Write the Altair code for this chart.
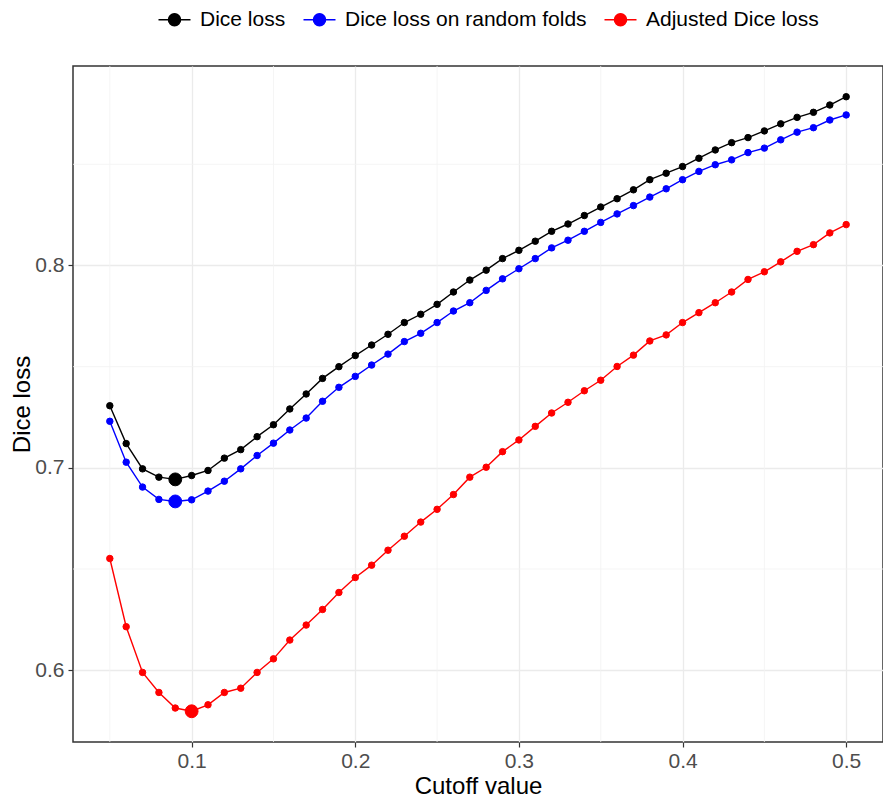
import altair as alt
import pandas as pd

cutoff = [0.05, 0.06, 0.07, 0.08, 0.09, 0.10, 0.11, 0.12, 0.13, 0.14,
          0.15, 0.16, 0.17, 0.18, 0.19, 0.20, 0.21, 0.22, 0.23, 0.24,
          0.25, 0.26, 0.27, 0.28, 0.29, 0.30, 0.31, 0.32, 0.33, 0.34,
          0.35, 0.36, 0.37, 0.38, 0.39, 0.40, 0.41, 0.42, 0.43, 0.44,
          0.45, 0.46, 0.47, 0.48, 0.49, 0.50]

dice = [0.7307, 0.7120, 0.6995, 0.6954, 0.6943, 0.6962, 0.6987, 0.7048, 0.7090, 0.7154,
        0.7213, 0.7291, 0.7365, 0.7442, 0.7500, 0.7555, 0.7607, 0.7660, 0.7718, 0.7759,
        0.7808, 0.7869, 0.7928, 0.7977, 0.8034, 0.8075, 0.8120, 0.8169, 0.8205, 0.8247,
        0.8289, 0.8330, 0.8374, 0.8424, 0.8456, 0.8489, 0.8530, 0.8571, 0.8607, 0.8632,
        0.8665, 0.8700, 0.8732, 0.8757, 0.8793, 0.8834]

dice_random = [0.7230, 0.7028, 0.6905, 0.6844, 0.6834, 0.6842, 0.6885, 0.6934, 0.6995, 0.7061,
               0.7122, 0.7187, 0.7246, 0.7329, 0.7398, 0.7452, 0.7508, 0.7562, 0.7624, 0.7665,
               0.7718, 0.7775, 0.7816, 0.7877, 0.7934, 0.7984, 0.8034, 0.8087, 0.8125, 0.8169,
               0.8213, 0.8255, 0.8296, 0.8338, 0.8379, 0.8424, 0.8465, 0.8498, 0.8522, 0.8558,
               0.8580, 0.8621, 0.8659, 0.8681, 0.8719, 0.8744]

dice_adjusted = [0.6552, 0.6215, 0.5989, 0.5890, 0.5813, 0.5797, 0.5829, 0.5890, 0.5911, 0.5989,
                 0.6056, 0.6149, 0.6223, 0.6300, 0.6384, 0.6458, 0.6519, 0.6593, 0.6662, 0.6732,
                 0.6795, 0.6868, 0.6954, 0.7003, 0.7080, 0.7138, 0.7205, 0.7271, 0.7324, 0.7381,
                 0.7433, 0.7501, 0.7557, 0.7627, 0.7657, 0.7718, 0.7767, 0.7816, 0.7869, 0.7931,
                 0.7969, 0.8018, 0.8070, 0.8103, 0.8161, 0.8202]

series_names = ["Dice loss", "Dice loss on random folds", "Adjusted Dice loss"]
series_colors = ["#000000", "#0000FF", "#FF0000"]

x_major = [0.1, 0.2, 0.3, 0.4, 0.5]
x_minor = [0.05, 0.15, 0.25, 0.35, 0.45]
y_major = [0.6, 0.7, 0.8]
y_minor = [0.65, 0.75, 0.85]

rows = []
for name, vals in zip(series_names, [dice, dice_random, dice_adjusted]):
    for c, v in zip(cutoff, vals):
        rows.append({"cutoff": c, "loss": v, "series": name})
df = pd.DataFrame(rows)


# ggplot-like 5% expansion of the data range
def expand(lo, hi, f=0.05):
    d = (hi - lo) * f
    return [lo - d, hi + d]


all_y = dice + dice_random + dice_adjusted
xscale = alt.Scale(domain=expand(min(cutoff), max(cutoff)), nice=False, zero=False)
yscale = alt.Scale(domain=expand(min(all_y), max(all_y)), nice=False, zero=False)
# legend scale (fill / stroke of the points)
color_scale = alt.Scale(domain=series_names, range=series_colors)
# same mapping for the lines, listed in another order so it stays a separate, legend-less scale
line_scale = alt.Scale(domain=series_names[::-1], range=series_colors[::-1])

FONT = "Liberation Sans"

x_axis = alt.Axis(values=x_major, format=".1f", title="Cutoff value", grid=True,
                  gridColor="#EBEBEB", gridWidth=1.3, domain=False, tickColor="#333333",
                  tickSize=5, tickWidth=1.2, labelFontSize=21, labelColor="#4D4D4D",
                  labelPadding=3, titleFontSize=24, titleFontWeight="normal",
                  titleColor="#000000", titlePadding=3, labelFont=FONT, titleFont=FONT)
y_axis = alt.Axis(values=y_major, format=".1f", title="Dice loss", grid=True,
                  gridColor="#EBEBEB", gridWidth=1.3, domain=False, tickColor="#333333",
                  tickSize=5, tickWidth=1.2, labelFontSize=21, labelColor="#4D4D4D",
                  labelPadding=4, titleFontSize=24, titleFontWeight="normal",
                  titleColor="#000000", titlePadding=0, labelFont=FONT, titleFont=FONT)

minor_x = alt.Chart(pd.DataFrame({"cutoff": x_minor})).mark_rule(
    color="#F3F3F3", strokeWidth=0.8).encode(
    x=alt.X("cutoff:Q", scale=xscale, axis=x_axis))

minor_y = alt.Chart(pd.DataFrame({"loss": y_minor})).mark_rule(
    color="#F3F3F3", strokeWidth=0.8).encode(
    y=alt.Y("loss:Q", scale=yscale, axis=y_axis))

lines = alt.Chart(df).mark_line(strokeWidth=1.4).encode(
    x=alt.X("cutoff:Q", scale=xscale, axis=x_axis),
    y=alt.Y("loss:Q", scale=yscale, axis=y_axis),
    color=alt.Color("series:N", scale=line_scale, legend=None),
    detail="series:N",
)

legend = alt.Legend(
    title=None, orient="none", direction="horizontal", legendX=91, legendY=-57,
    symbolType="M-2,0L2,0M-0.75,0A0.75,0.75,0,1,0,0.75,0A0.75,0.75,0,1,0,-0.75,0Z",
    symbolSize=256, symbolStrokeWidth=1.5, symbolOpacity=1,
    labelFontSize=21, labelFont=FONT, labelColor="#000000", labelOffset=15,
    labelLimit=500, columnPadding=14,
)

# all points; the minimum of each series drawn larger
pts = alt.Chart(df).transform_joinaggregate(
    minloss="min(loss)", groupby=["series"]
).mark_point(shape="circle", opacity=1, strokeWidth=1).encode(
    x=alt.X("cutoff:Q", scale=xscale, axis=x_axis),
    y=alt.Y("loss:Q", scale=yscale, axis=y_axis),
    fill=alt.Fill("series:N", scale=color_scale, legend=legend),
    stroke=alt.Stroke("series:N", scale=color_scale, legend=legend),
    size=alt.condition("datum.loss == datum.minloss", alt.value(165), alt.value(42)),
)

chart = alt.layer(minor_x, minor_y, lines, pts).properties(
    width=810, height=676,
    padding={"left": 65, "top": 58, "right": 0, "bottom": 56},
    autosize=alt.AutoSizeParams(type="none"),
    background="white",
).configure_view(stroke="#333333", strokeWidth=1.5)

chart.save("out.html", embed_options={"renderer": "svg", "actions": False})
